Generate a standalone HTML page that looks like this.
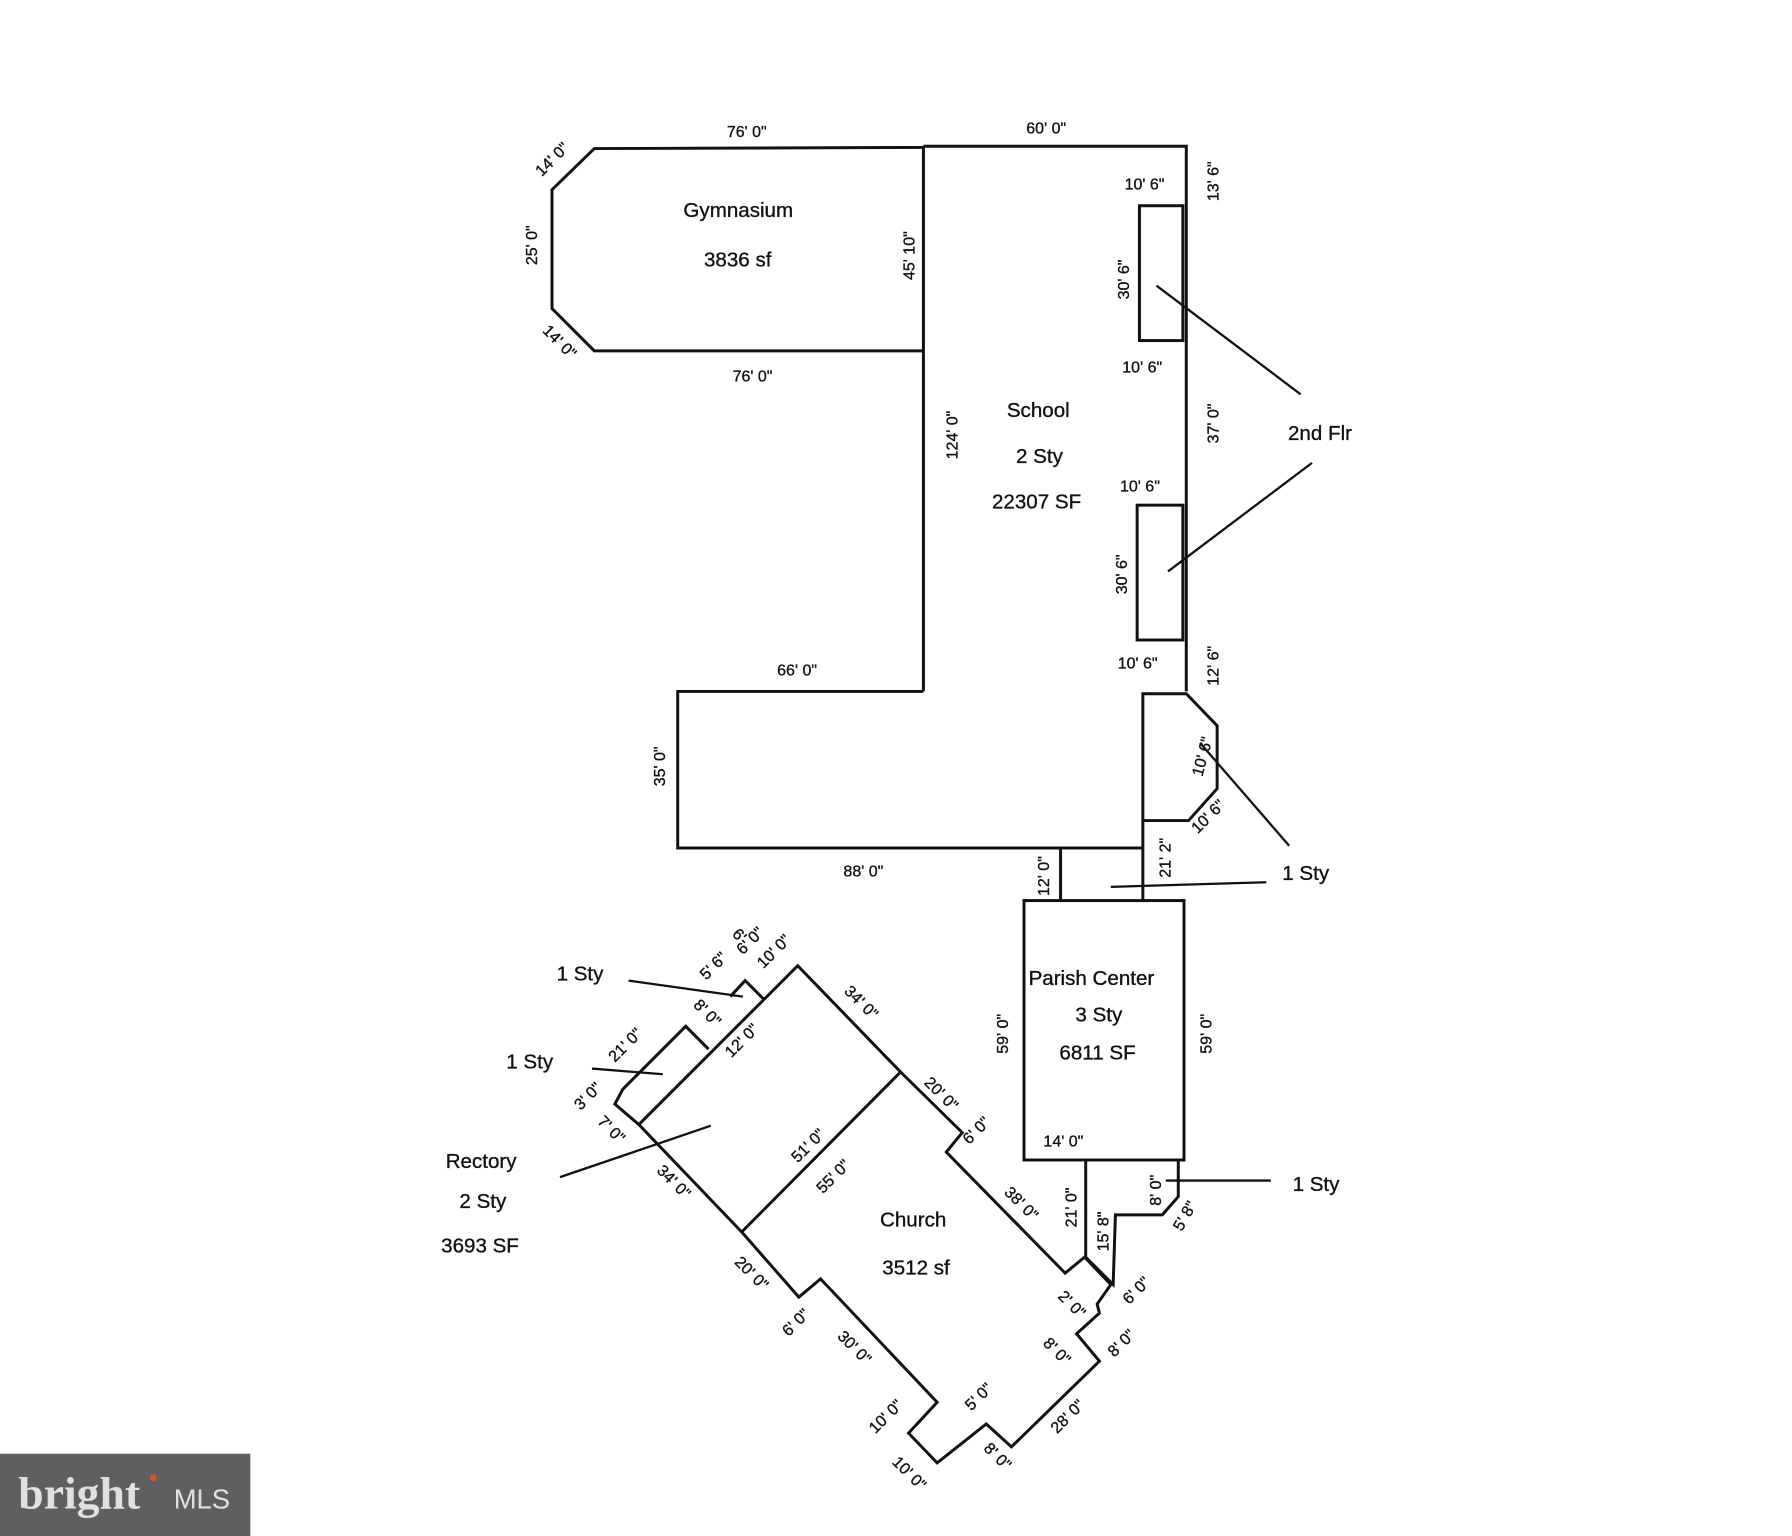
<!DOCTYPE html>
<html><head><meta charset="utf-8">
<style>
html,body{margin:0;padding:0;background:#fff;}
svg{display:block;}
text{font-family:"Liberation Sans",sans-serif;fill:#111;stroke:#111;stroke-width:0.3;}
.t{font-size:18px;}
.s{font-size:14px;}
</style></head>
<body>
<svg width="1792" height="1536" viewBox="0 0 1568 1344" xmlns="http://www.w3.org/2000/svg">
<g fill="none" stroke="#111" stroke-width="2.6" stroke-linejoin="miter">
<polyline points="808,129 520,130 483,166 483,270 520,307 808,307"/>
<polyline points="808,128 1038,128 1038,605"/>
<line x1="808" y1="128" x2="808" y2="605"/>
<polyline points="808,605 593,605 593,742 1000,742"/>
<rect x="997" y="180" width="38" height="118"/>
<rect x="995" y="442" width="40" height="118"/>
<polyline points="1000,742 1000,607 1038,607 1065,635 1065,690 1040,718 1000,718"/>
<line x1="928" y1="742" x2="928" y2="788"/>
<line x1="1000" y1="742" x2="1000" y2="788"/>
<rect x="896" y="788" width="140" height="227"/>
<polyline points="950,1016 950,1100 974,1124 976,1063 1017,1063 1031,1047 1031,1016"/>
<polygon points="788,938 842,991 828,1008 932,1114 949,1100 972,1124 960,1141 962,1149 942,1167 962,1191 885,1266 863,1246 820,1280 795,1254 820,1227 718,1119 699,1135 649,1078"/>
<polyline points="649,1078 559,984 698,845 788,938"/>
<polyline points="559,984 538,966 545,953 600,898 620,918"/>
<polyline points="639,872 652,858 669,875"/>
<line x1="1012" y1="250" x2="1138" y2="345" stroke-width="2"/>
<line x1="1022" y1="500" x2="1148" y2="405" stroke-width="2"/>
<line x1="1050" y1="650" x2="1128" y2="740" stroke-width="2"/>
<line x1="972" y1="776" x2="1108" y2="772" stroke-width="2"/>
<line x1="1020" y1="1033" x2="1112" y2="1033" stroke-width="2"/>
<line x1="550" y1="858" x2="650" y2="872" stroke-width="2"/>
<line x1="518" y1="935" x2="580" y2="940" stroke-width="2"/>
<line x1="490" y1="1030" x2="622" y2="985" stroke-width="2"/>
</g>
<text class="t" x="598" y="190">Gymnasium</text>
<text class="t" x="616" y="233">3836 sf</text>
<text class="t" x="881" y="365">School</text>
<text class="t" x="889" y="405">2 Sty</text>
<text class="t" x="868" y="445">22307 SF</text>
<text class="t" x="1127" y="385">2nd Flr</text>
<text class="t" x="1122" y="770">1 Sty</text>
<text class="t" x="1131" y="1042">1 Sty</text>
<text class="t" x="900" y="862">Parish Center</text>
<text class="t" x="941" y="894">3 Sty</text>
<text class="t" x="927" y="927">6811 SF</text>
<text class="t" x="770" y="1073">Church</text>
<text class="t" x="772" y="1115">3512 sf</text>
<text class="t" x="487" y="858">1 Sty</text>
<text class="t" x="443" y="935">1 Sty</text>
<text class="t" x="390" y="1022">Rectory</text>
<text class="t" x="402" y="1057">2 Sty</text>
<text class="t" x="386" y="1096">3693 SF</text>
<g class="s">
<text x="636" y="120">76' 0"</text>
<text x="898" y="117">60' 0"</text>
<text x="641" y="334">76' 0"</text>
<text x="680" y="591">66' 0"</text>
<text x="738" y="767">88' 0"</text>
<text x="984" y="166">10' 6"</text>
<text x="982" y="326">10' 6"</text>
<text x="980" y="430">10' 6"</text>
<text x="978" y="585">10' 6"</text>
<text x="913" y="1003">14' 0"</text>
<text transform="translate(800,245) rotate(-90)">45' 10"</text>
<text transform="translate(838,402) rotate(-90)">124' 0"</text>
<text transform="translate(470,232) rotate(-90)">25' 0"</text>
<text transform="translate(582,688) rotate(-90)">35' 0"</text>
<text transform="translate(1066,176) rotate(-90)">13' 6"</text>
<text transform="translate(1066,388) rotate(-90)">37' 0"</text>
<text transform="translate(1066,600) rotate(-90)">12' 6"</text>
<text transform="translate(988,262) rotate(-90)">30' 6"</text>
<text transform="translate(986,520) rotate(-90)">30' 6"</text>
<text transform="translate(1052,680) rotate(-75)">10' 6"</text>
<text transform="translate(1048,730) rotate(-45)">10' 6"</text>
<text transform="translate(1024,768) rotate(-90)">21' 2"</text>
<text transform="translate(918,784) rotate(-90)">12' 0"</text>
<text transform="translate(882,922) rotate(-90)">59' 0"</text>
<text transform="translate(1060,922) rotate(-90)">59' 0"</text>
<text transform="translate(942,1074) rotate(-90)">21' 0"</text>
<text transform="translate(970,1095) rotate(-90)">15' 8"</text>
<text transform="translate(1016,1055) rotate(-90)">8' 0"</text>
<text transform="translate(1034,1078) rotate(-60)">5' 8"</text>
<text transform="translate(474,155) rotate(-45)">14' 0"</text>
<text transform="translate(474,290) rotate(45)">14' 0"</text>
<text transform="translate(738,868) rotate(45)">34' 0"</text>
<text transform="translate(808,948) rotate(45)">20' 0"</text>
<text transform="translate(848,1002) rotate(-45)">6' 0"</text>
<text transform="translate(878,1044) rotate(45)">38' 0"</text>
<text transform="translate(668,848) rotate(-45)">10' 0"</text>
<text transform="translate(640,926) rotate(-45)">12' 0"</text>
<text transform="translate(698,1018) rotate(-45)">51' 0"</text>
<text transform="translate(720,1045) rotate(-45)">55' 0"</text>
<text transform="translate(538,930) rotate(-45)">21' 0"</text>
<text transform="translate(618,858) rotate(-45)">5' 6"</text>
<text transform="translate(640,818) rotate(45)">6'</text>
<text transform="translate(650,836) rotate(-45)">6' 0"</text>
<text transform="translate(606,880) rotate(45)">8' 0"</text>
<text transform="translate(508,972) rotate(-45)">3' 0"</text>
<text transform="translate(522,982) rotate(45)">7' 0"</text>
<text transform="translate(574,1025) rotate(45)">34' 0"</text>
<text transform="translate(642,1105) rotate(45)">20' 0"</text>
<text transform="translate(690,1170) rotate(-45)">6' 0"</text>
<text transform="translate(732,1170) rotate(45)">30' 0"</text>
<text transform="translate(766,1255) rotate(-45)">10' 0"</text>
<text transform="translate(780,1280) rotate(45)">10' 0"</text>
<text transform="translate(850,1235) rotate(-45)">5' 0"</text>
<text transform="translate(860,1268) rotate(45)">8' 0"</text>
<text transform="translate(925,1255) rotate(-45)">28' 0"</text>
<text transform="translate(912,1176) rotate(45)">8' 0"</text>
<text transform="translate(975,1188) rotate(-45)">8' 0"</text>
<text transform="translate(925,1135) rotate(45)">2' 0"</text>
<text transform="translate(988,1142) rotate(-45)">6' 0"</text>
</g>
<rect x="0" y="1272" width="219" height="72" fill="#5f5f5f"/>
<text x="16" y="1320" style="font-family:'Liberation Serif',serif;font-size:40px;fill:#e0e0e0;stroke:none;font-weight:bold;">bright</text>
<text x="152" y="1320" style="font-size:24px;fill:#e0e0e0;stroke:none;">MLS</text>
<circle cx="134" cy="1293" r="3" fill="#d4552a"/>
</svg>
</body></html>
